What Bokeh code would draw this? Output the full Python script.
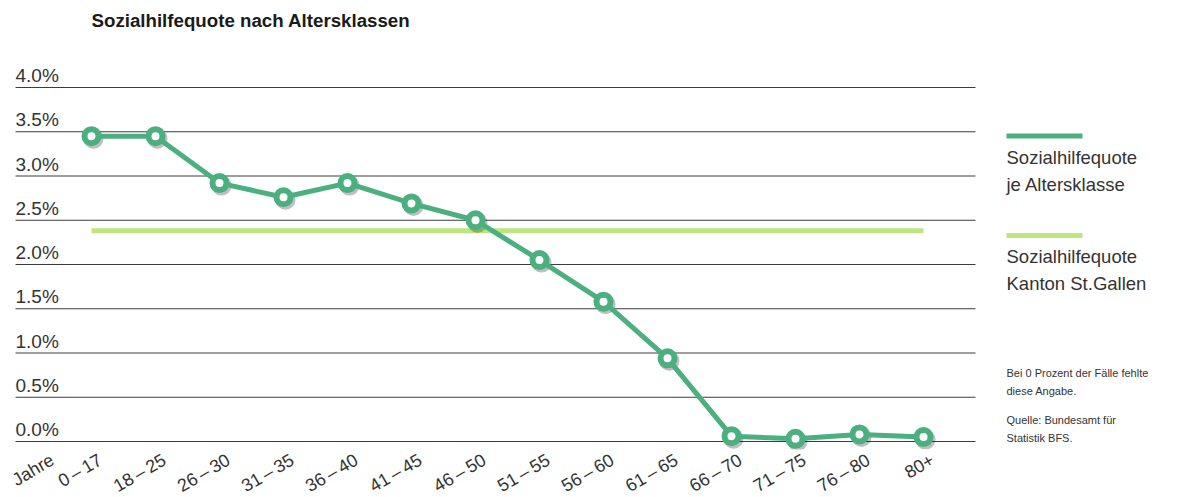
from bokeh.plotting import figure
from bokeh.models import FixedTicker, Range1d
from bokeh.embed import file_html
from bokeh.resources import INLINE
from bokeh.core.properties import value

# ---------------- data ----------------
title_text = "Sozialhilfequote nach Altersklassen"
axis_prefix = "Jahre"
DASH = "\u2009\u2013\u2009"
categories = ["0" + DASH + "17", "18" + DASH + "25", "26" + DASH + "30", "31" + DASH + "35",
              "36" + DASH + "40", "41" + DASH + "45", "46" + DASH + "50", "51" + DASH + "55",
              "56" + DASH + "60", "61" + DASH + "65", "66" + DASH + "70", "71" + DASH + "75",
              "76" + DASH + "80", "80+"]
quote = [3.45, 3.45, 2.92, 2.76, 2.92, 2.69, 2.50, 2.05, 1.58, 0.94, 0.06, 0.03, 0.08, 0.05]
kanton_quote = 2.38
y_ticks = [0.0, 0.5, 1.0, 1.5, 2.0, 2.5, 3.0, 3.5, 4.0]
y_tick_labels = ["0.0%", "0.5%", "1.0%", "1.5%", "2.0%", "2.5%", "3.0%", "3.5%", "4.0%"]
legend_lines = [["Sozialhilfequote", "je Altersklasse"], ["Sozialhilfequote", "Kanton St.Gallen"]]
note_lines = [["Bei 0 Prozent der F\u00e4lle fehlte", "diese Angabe."], ["Quelle: Bundesamt f\u00fcr", "Statistik BFS."]]

# ---------------- style / layout ----------------
GREEN = "#4caf80"
LIGHT = "#bde67f"
TXT = "#333333"
GRID = "#3c3c3c"
FONT = "Liberation Sans"

W = 1192            # frame width (canvas width)
FT = 33             # frame top in canvas px
FB = 449            # frame bottom in canvas px
FH = FB - FT
PX_CAT = 64.0       # px per category
PX_UNIT = 88.5      # px per 1 %
X0 = 91.0           # canvas x of first category
Y0 = 441.0          # canvas y of 0 %

x_start = -X0 / PX_CAT
x_end = (W - X0) / PX_CAT
y_end = (Y0 - FT) / PX_UNIT
y_start = (Y0 - FB) / PX_UNIT


def px_x(px):
    return (px - X0) / PX_CAT


def px_y(py):
    return (Y0 - py) / PX_UNIT


n = len(categories)
xs = list(range(n))

p = figure(frame_width=W, frame_height=FH, output_backend="svg", toolbar_location=None,
           x_range=Range1d(x_start, x_end), y_range=Range1d(y_start, y_end),
           min_border_left=0, min_border_right=0, min_border_top=FT, min_border_bottom=0,
           title=title_text)
p.outline_line_color = None
p.background_fill_color = "white"
p.border_fill_color = "white"
p.xgrid.visible = False
p.ygrid.visible = False
p.yaxis.visible = False

p.title.text_font = FONT
p.title.text_font_size = "18.7px"
p.title.text_font_style = "bold"
p.title.text_color = "#1a1a1a"
p.title.align = "left"
p.title.offset = X0
p.title.standoff = 6

# x axis with rotated labels
LABEL_SHIFT = 0.14
tick_pos = [LABEL_SHIFT - 0.75] + [i + LABEL_SHIFT for i in xs]
tick_txt = [axis_prefix] + categories
xa = p.xaxis[0]
xa.ticker = FixedTicker(ticks=tick_pos)
xa.major_label_overrides = {t: s for t, s in zip(tick_pos, tick_txt)}
xa.axis_line_color = None
xa.major_tick_line_color = None
xa.minor_tick_line_color = None
xa.major_label_orientation = 0.53
xa.major_label_standoff = 3
xa.major_label_text_font = FONT
xa.major_label_text_font_size = "18px"
xa.major_label_text_color = TXT

# horizontal grid lines
g_left = px_x(15)
g_right = px_x(975)
p.segment(x0=[g_left] * len(y_ticks), x1=[g_right] * len(y_ticks), y0=y_ticks, y1=y_ticks,
          line_color=GRID, line_width=1)

# y tick labels above grid lines
p.text(x=[g_left] * len(y_ticks), y=y_ticks, text=y_tick_labels, text_font=value(FONT),
       text_font_size="19px", text_color=TXT, text_align="left", text_baseline="middle",
       y_offset=-12)

# Kanton line
p.line(x=[xs[0], xs[-1]], y=[kanton_quote, kanton_quote], line_color=LIGHT, line_width=5)

# shadows
p.scatter(x=[v + 2 / PX_CAT for v in xs], y=[v - 2.5 / PX_UNIT for v in quote], size=20,
          fill_color="black", fill_alpha=0.25, line_color=None)
# main line + markers
p.line(x=xs, y=quote, line_color=GREEN, line_width=5, line_join="round")
p.scatter(x=xs, y=quote, size=14, fill_color="white", line_color=GREEN, line_width=6)

# legend (custom, swatch above text)
LX0, LX1 = 1006, 1082
sw_y = [135.5, 235]
txt_mid = [[157, 184], [256, 283]]
for col, sy, lines, mids in zip([GREEN, LIGHT], sw_y, legend_lines, txt_mid):
    p.segment(x0=[px_x(LX0)], x1=[px_x(LX1)], y0=[px_y(sy)], y1=[px_y(sy)], line_color=col,
              line_width=5)
    p.text(x=[px_x(LX0)] * len(lines), y=[px_y(m) for m in mids], text=lines,
           text_font=value(FONT), text_font_size="18.5px", text_color=TXT, text_align="left",
           text_baseline="middle")

# notes
note_mid = [[372, 390], [419, 437]]
for lines, mids in zip(note_lines, note_mid):
    p.text(x=[px_x(LX0)] * len(lines), y=[px_y(m) for m in mids], text=lines,
           text_font=value(FONT), text_font_size="11px", text_color=TXT, text_align="left",
           text_baseline="middle")

open("out.html", "w").write(file_html(p, INLINE))
